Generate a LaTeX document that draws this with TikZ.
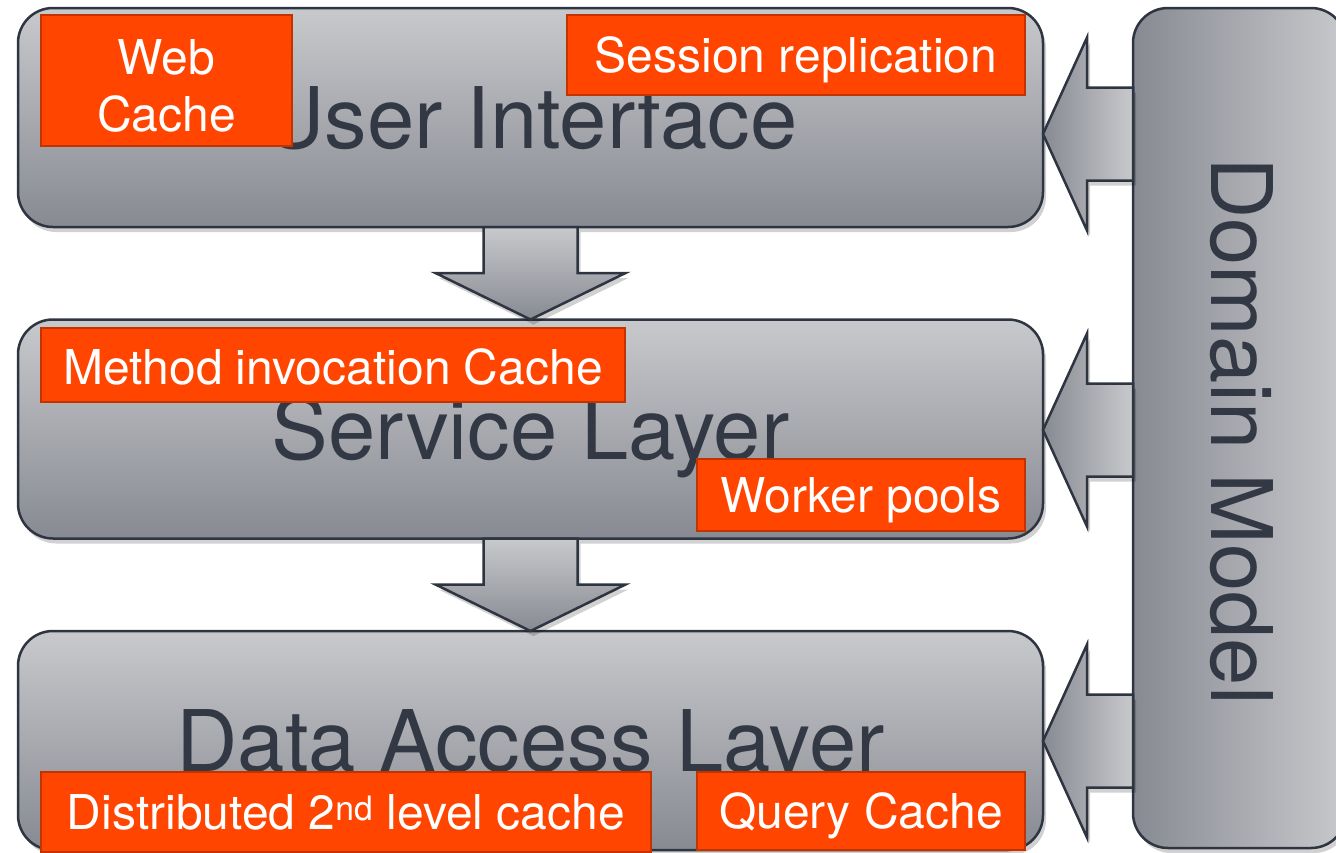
\documentclass[tikz,border=0pt]{standalone}
\usepackage{fontspec}
\setmainfont{TeX Gyre Heros}
\usetikzlibrary{calc,shadows}
\definecolor{txt}{HTML}{333944}
\definecolor{gtop}{HTML}{C8C9CC}
\definecolor{gbot}{HTML}{878A92}
\definecolor{edge}{HTML}{2E3541}
\definecolor{og}{HTML}{FF4500}
\definecolor{ogd}{HTML}{C23300}
\begin{document}
\begin{tikzpicture}[x=1pt,y=-1pt,
  shade/.style={drop shadow={shadow xshift=3pt,shadow yshift=-5pt,opacity=0.18,fill=black}},
  layer/.style={shade,draw=edge,line width=2.5pt,rounded corners=35pt,top color=gtop,bottom color=gbot,
    minimum width=1025pt,minimum height=219pt,inner sep=0pt,outer sep=0pt,text=txt,
    font=\fontsize{85}{90}\selectfont,text height=61pt,text depth=0pt},
  dmbox/.style={shade,draw=edge,line width=2.5pt,rounded corners=35pt,left color=gbot,right color=gtop,
    minimum width=213pt,minimum height=840pt,inner sep=0pt,outer sep=0pt},
  dmtext/.style={rotate=-90,text=txt,font=\fontsize{85}{90}\selectfont,text height=61pt,text depth=0pt,inner sep=0pt},
  darrow/.style={shade,draw=edge,line width=2.5pt,line join=miter,top color=gtop,bottom color=gbot},
  larrow/.style={shade,draw=edge,line width=2.5pt,line join=miter,left color=gbot,right color=gtop},
  obox/.style={draw=ogd,line width=2.5pt,fill=og,text=white,inner sep=0pt,
    font=\fontsize{48}{57}\selectfont},
  oline/.style={obox,text height=34.5pt,text depth=0pt},
  otext/.style={text=white,inner sep=0pt,font=\fontsize{48}{57}\selectfont}
]
\useasboundingbox (0,0) rectangle (1336,852);
\clip (0,0) rectangle (1336,852);

% layers
\node[layer] (ui) at (530.5,117.5) {User Interface};
\node[layer] (sl) at (530.5,429) {Service Layer};
\node[layer] (dal) at (530.5,740.5) {Data Access Layer};

% down arrows
\draw[darrow] ($(ui.south)+(-47,0)$) -- ++(0,46) -- ++(-48,0) -- (sl.north) -- ($(ui.south)+(95,46)$) -- ++(-48,0) -- ++(0,-46) -- cycle;
\draw[darrow] ($(sl.south)+(-47,0)$) -- ++(0,46) -- ++(-48,0) -- (dal.north) -- ($(sl.south)+(95,46)$) -- ++(-48,0) -- ++(0,-46) -- cycle;

% domain model
\node[dmbox] (dm) at (1239.5,428) {};
\node[dmtext] (dmt) at (1242,431) {Domain Model};

% left arrows
\draw[larrow] (ui.east |- 0,134) -- ++(44,-96.5) -- ++(0,50) -- (dm.west |- 0,87.5) -- (dm.west |- 0,180.5) -- ++(-46,0) -- ++(0,50) -- cycle;
\draw[larrow] (sl.east |- 0,430) -- ++(44,-96.5) -- ++(0,50) -- (dm.west |- 0,383.5) -- (dm.west |- 0,476.5) -- ++(-46,0) -- ++(0,50) -- cycle;
\draw[larrow] (dal.east |- 0,741) -- ++(44,-96.5) -- ++(0,50) -- (dm.west |- 0,694.5) -- (dm.west |- 0,787.5) -- ++(-46,0) -- ++(0,50) -- cycle;

% orange boxes
\node[obox,minimum width=251pt,minimum height=131pt] (wc) at (166.5,80.5) {};
\node[otext,align=center] (wct) at (166.5,86) {Web\\Cache};
\node[oline,minimum width=458pt,minimum height=80pt] (sr) at (796,55) {Session replication};
\node[oline,text height=39.5pt,minimum width=584pt,minimum height=74pt] (mic) at (333,365) {Method invocation Cache};
\node[oline,minimum width=328pt,minimum height=72pt] (wp) at (861,495) {Worker pools};
\node[oline,minimum width=610pt,minimum height=80pt] (d2) at (346,812) {Distributed 2\textsuperscript{nd} level cache};
\node[oline,minimum width=328pt,minimum height=78pt] (qc) at (861,811) {Query Cache};
\end{tikzpicture}
\end{document}
